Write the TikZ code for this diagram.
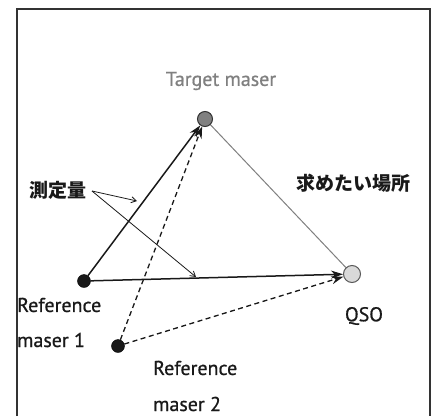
\documentclass[tikz,border=0pt]{standalone}
\usepackage{fontspec}
\setmainfont{PT Sans}[FakeBold=0.7]
\newfontfamily\jpfont{Noto Sans CJK JP}
\usetikzlibrary{arrows.meta}
\begin{document}
\begin{tikzpicture}[x=1pt,y=-1pt,
  src/.style={circle,fill=black!90,draw=black,inner sep=0pt,minimum size=13pt},
  lbl/.style={font=\fontsize{20}{22}\selectfont,text=black!90,inner sep=0pt},
  jlbl/.style={font=\jpfont\fontsize{19}{21}\selectfont\bfseries,text=black!90,inner sep=0pt},
  meas/.style={line width=1.5pt,black!90,-{Stealth[length=12pt,width=8pt]}},
  dmeas/.style={line width=1.3pt,black!90,dash pattern=on 5pt off 3.5pt,-{Stealth[length=12pt,width=8pt]}},
  pointer/.style={line width=0.8pt,black!90,-{Straight Barb[length=5pt,width=6pt]}}]
\useasboundingbox (0,0) rectangle (437,416);
\fill[white] (0,0) rectangle (437,416);
\draw[line width=1.3pt,black!80] (17,416) -- (17,9) -- (430,9) -- (430,416);
% nodes
\node[circle,fill=black!50,draw=black!80,line width=1pt,inner sep=0pt,minimum size=15pt] (tgt) at (205,119) {};
\node[circle,fill=black!15,draw=black!65,line width=1pt,inner sep=0pt,minimum size=17pt] (qso) at (352,274) {};
\node[src] (r1) at (84,281) {};
\node[src] (r2) at (118,346) {};
% labels
\node[lbl,text=black!50] (tl) at (221,81) {Target maser};
\node[lbl] (ql) at (364,316) {QSO};
\node[lbl,anchor=west] (r1a) at (17,305) {Reference};
\node[lbl,anchor=west] (r1b) at (17,340) {maser 1};
\node[lbl,anchor=west] (r2a) at (153,368) {Reference};
\node[lbl,anchor=west] (r2b) at (153,404) {maser 2};
\node[jlbl] (ml) at (58,190) {測定量};
\node[jlbl] (wl) at (353,183) {求めたい場所};
% connectors
\draw[line width=1pt,black!50] (tgt) -- (qso);
\draw[meas] (r1) -- (tgt);
\draw[meas] (r1) -- (qso);
\draw[dmeas] (r2) -- (tgt);
\draw[dmeas] (r2) -- (qso);
\coordinate (p0) at (92,191);
\coordinate (pa) at (137,201);
\coordinate (pb) at (196,277);
\draw[pointer] (p0) -- (pa);
\draw[pointer] (p0) -- (pb);
\end{tikzpicture}
\end{document}
